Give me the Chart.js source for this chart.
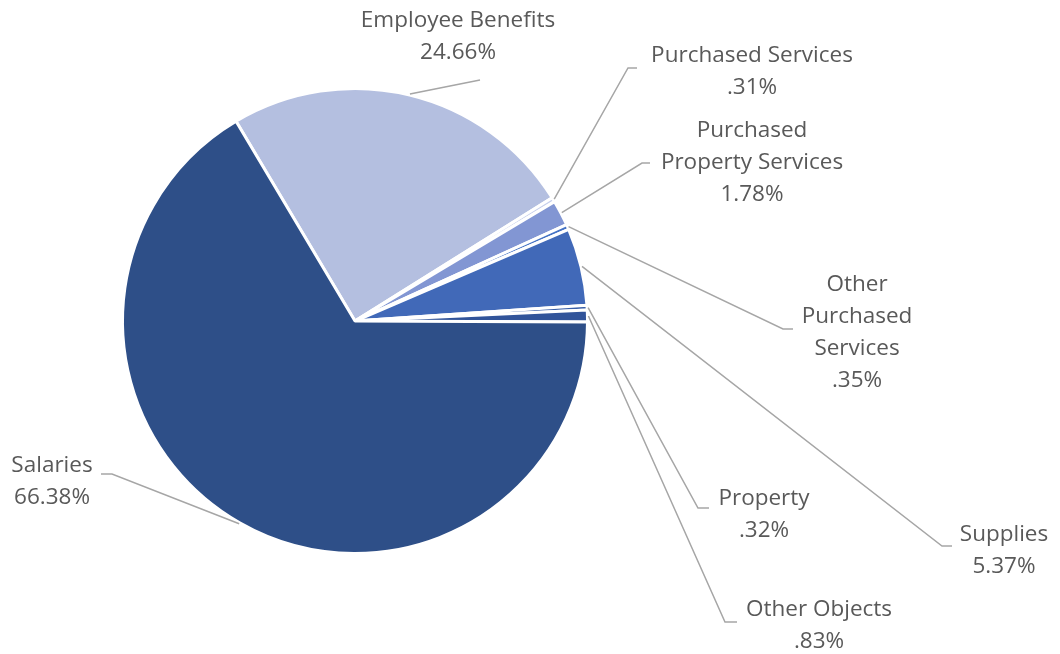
<!DOCTYPE html>
<html>
<head>
<meta charset="utf-8">
<script src="https://cdn.jsdelivr.net/npm/chart.js@4"></script>
<style>
  html, body { margin: 0; padding: 0; background: #fff; }
  #wrap { width: 1060px; height: 654px; position: relative; }
</style>
</head>
<body>
<div id="wrap"><canvas id="spendChart"></canvas></div>
<script>
// Spending by object, clockwise from Employee Benefits
const categories = ['Employee Benefits', 'Purchased Services', 'Purchased Property Services',
  'Other Purchased Services', 'Supplies', 'Property', 'Other Objects', 'Salaries']
const shares = [24.66, 0.31, 1.78, 0.35, 5.37, 0.32, 0.83, 66.38]
const sliceColors = ['#B4BFE0', '#C6CFEC', '#8296D3', '#4472C4', '#4169B8', '#3A5FA8', '#31549A', '#2E4F88']

// how each label wraps, where its text block sits, and the leader line elbow + stub end
const labelLines = [
  ['Employee Benefits'], ['Purchased Services'], ['Purchased', 'Property Services'],
  ['Other', 'Purchased', 'Services'], ['Supplies'], ['Property'], ['Other Objects'], ['Salaries']
]
const labelPos = [
  { x: 458, y: 21, elbow: [480, 80], stub: [480, 80] },
  { x: 752, y: 56, elbow: [628, 68], stub: [637, 68] },
  { x: 752, y: 131, elbow: [642, 163], stub: [650, 163] },
  { x: 857, y: 285, elbow: [783, 329], stub: [793, 329] },
  { x: 1004, y: 535, elbow: [942, 546], stub: [952, 546] },
  { x: 764, y: 499, elbow: [698, 508], stub: [709, 508] },
  { x: 819, y: 610, elbow: [725, 622], stub: [737, 622] },
  { x: 52, y: 466, elbow: [112, 474], stub: [101, 474] }
]

const pctText = v => v.toFixed(2).replace(/^0/, '') + '%'

const pieLabels = {
  id: 'pieLabels',
  afterDraw(chart) {
    const ctx = chart.ctx
    const arcs = chart.getDatasetMeta(0).data
    ctx.save()
    ctx.strokeStyle = '#A6A6A6'
    ctx.lineWidth = 1.5
    arcs.forEach((arc, i) => {
      const { x, y, startAngle, endAngle, outerRadius } = arc.getProps(['x', 'y', 'startAngle', 'endAngle', 'outerRadius'], true)
      const mid = (startAngle + endAngle) / 2
      const p = labelPos[i]
      ctx.beginPath()
      ctx.moveTo(x + Math.cos(mid) * (outerRadius + 1), y + Math.sin(mid) * (outerRadius + 1))
      ctx.lineTo(p.elbow[0], p.elbow[1])
      ctx.lineTo(p.stub[0], p.stub[1])
      ctx.stroke()
    })
    ctx.fillStyle = '#595959'
    ctx.font = '22.5px "Open Sans"'
    ctx.textAlign = 'center'
    ctx.textBaseline = 'middle'
    labelLines.forEach((lines, i) => {
      const p = labelPos[i]
      lines.concat([pctText(shares[i])]).forEach((t, k) => ctx.fillText(t, p.x, p.y + k * 32))
    })
    ctx.restore()
  }
}

new Chart(document.getElementById('spendChart'), {
  type: 'pie',
  data: {
    labels: categories,
    datasets: [{
      data: shares,
      backgroundColor: sliceColors,
      borderColor: '#ffffff',
      borderWidth: 3
    }]
  },
  options: {
    responsive: true,
    maintainAspectRatio: false,
    animation: false,
    rotation: 58 - shares[0] * 3.6,
    layout: { padding: { left: 121, top: 87, right: 471, bottom: 99 } },
    plugins: {
      legend: { display: false },
      tooltip: { enabled: false }
    },
    events: []
  },
  plugins: [pieLabels]
})
</script>
</body>
</html>
